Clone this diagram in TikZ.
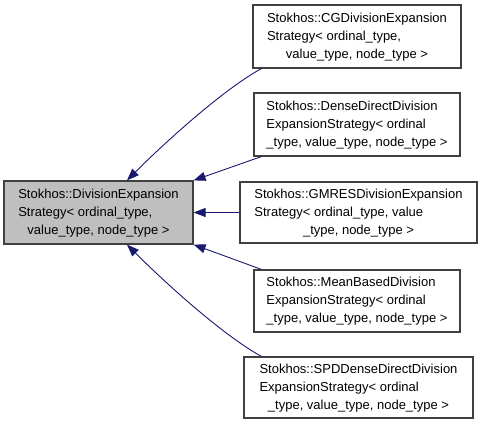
\documentclass[tikz,border=0pt]{standalone}
\usepackage{fontspec}
\setmainfont{Liberation Sans}
\usetikzlibrary{arrows.meta}
\definecolor{edgeblue}{HTML}{191970}
\definecolor{basegray}{HTML}{BFBFBF}
\definecolor{boxline}{HTML}{404040}
\newcommand{\clslabel}[3]{\begin{tabular}{@{}l@{}}#1\\#2\\\multicolumn{1}{@{}c@{}}{#3}\end{tabular}}
\tikzset{
  cls/.style={draw=boxline, line width=1.2pt, inner sep=0pt, font=\fontsize{13}{18}\selectfont},
  edge/.style={draw=edgeblue, line width=0.9pt, {Triangle[length=12pt,width=9pt,fill=edgeblue]}-}
}
\begin{document}
\begin{tikzpicture}[x=1pt,y=-1pt]
\useasboundingbox (0,0) rectangle (480,427);
\node[cls, fill=basegray, minimum width=189, minimum height=63] (base) at (98.5,212.5)
  {\clslabel{Stokhos::DivisionExpansion}{Strategy< ordinal\_type,}{value\_type, node\_type >}};
\node[cls, minimum width=208, minimum height=63] (cg) at (357,36.5)
  {\clslabel{Stokhos::CGDivisionExpansion}{Strategy< ordinal\_type,}{value\_type, node\_type >}};
\node[cls, minimum width=206, minimum height=63] (dense) at (357,124.5)
  {\clslabel{Stokhos::DenseDirectDivision}{ExpansionStrategy< ordinal}{\_type, value\_type, node\_type >}};
\node[cls, minimum width=237, minimum height=61] (gmres) at (358.5,212.5)
  {\clslabel{Stokhos::GMRESDivisionExpansion}{Strategy< ordinal\_type, value}{\_type, node\_type >}};
\node[cls, minimum width=206, minimum height=62] (mean) at (357,301)
  {\clslabel{Stokhos::MeanBasedDivision}{ExpansionStrategy< ordinal}{\_type, value\_type, node\_type >}};
\node[cls, minimum width=229, minimum height=61] (spd) at (358.5,387.5)
  {\clslabel{Stokhos::SPDDenseDirectDivision}{ExpansionStrategy< ordinal}{\_type, value\_type, node\_type >}};
\draw[edge] ([xshift=28.5]base.north) .. controls +(35,-35) and +(-40,22) .. ([xshift=9]cg.south west);
\draw[edge] (base.north east) -- ([xshift=8]dense.south west);
\draw[edge] (base.east) -- (gmres.west);
\draw[edge] (base.south east) -- ([xshift=8]mean.north west);
\draw[edge] ([xshift=28.5]base.south) .. controls +(35,35) and +(-40,-22) .. ([xshift=18]spd.north west);
\end{tikzpicture}
\end{document}
